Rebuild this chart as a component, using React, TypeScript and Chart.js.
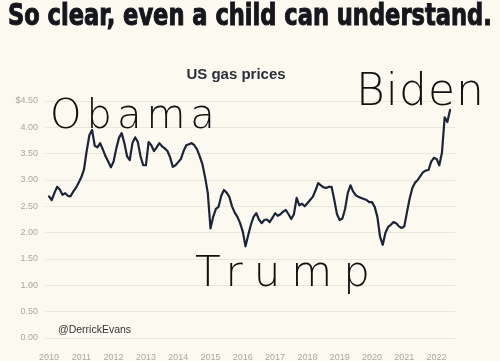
import React, { useEffect, useLayoutEffect, useRef } from 'react';
import { Chart, registerables } from 'chart.js';

Chart.register(...registerables);

const TITLE = 'So clear, even a child can understand.';
const CHART_TITLE = 'US gas prices';
const CREDIT = '@DerrickEvans';
const NOTE_OBAMA = 'Obama';
const NOTE_TRUMP = 'Trump';
const NOTE_BIDEN = 'Biden';

const yearTicks = [2010, 2011, 2012, 2013, 2014, 2015, 2016, 2017, 2018, 2019, 2020, 2021, 2022];
const priceTicks = [0, 0.5, 1, 1.5, 2, 2.5, 3, 3.5, 4, 4.5];

// monthly average prices (USD / gallon), January first
const prices2010 = [2.69, 2.62, 2.75, 2.87, 2.82, 2.72, 2.75, 2.70, 2.69, 2.78, 2.85, 2.95];
const prices2011 = [3.05, 3.20, 3.55, 3.85, 3.95, 3.65, 3.62, 3.70, 3.58, 3.45, 3.35, 3.24];
const prices2012 = [3.35, 3.60, 3.80, 3.89, 3.70, 3.45, 3.38, 3.70, 3.81, 3.72, 3.45, 3.28];
const prices2013 = [3.28, 3.72, 3.66, 3.55, 3.62, 3.70, 3.64, 3.60, 3.55, 3.43, 3.25, 3.28];
const prices2014 = [3.34, 3.40, 3.55, 3.66, 3.68, 3.70, 3.66, 3.58, 3.45, 3.30, 3.05, 2.75];
const prices2015 = [2.08, 2.30, 2.45, 2.49, 2.70, 2.81, 2.76, 2.68, 2.50, 2.38, 2.30, 2.18];
const prices2016 = [2.02, 1.74, 1.95, 2.15, 2.30, 2.37, 2.25, 2.18, 2.24, 2.25, 2.20, 2.28];
const prices2017 = [2.37, 2.32, 2.35, 2.40, 2.43, 2.35, 2.26, 2.35, 2.66, 2.52, 2.55, 2.50];
const prices2018 = [2.56, 2.62, 2.68, 2.80, 2.94, 2.90, 2.86, 2.85, 2.87, 2.87, 2.62, 2.35];
const prices2019 = [2.24, 2.27, 2.45, 2.75, 2.90, 2.78, 2.71, 2.68, 2.66, 2.64, 2.62, 2.58];
const prices2020 = [2.58, 2.49, 2.30, 1.92, 1.77, 2.00, 2.11, 2.15, 2.20, 2.18, 2.12, 2.09];
const prices2021 = [2.12, 2.39, 2.65, 2.85, 2.95, 3.00, 3.08, 3.15, 3.18, 3.19, 3.35, 3.42];
const prices2022 = [3.40, 3.28, 3.52, 4.19, 4.10, 4.33];

const pricesByYear: [number, number[]][] = [
  [2010, prices2010], [2011, prices2011], [2012, prices2012], [2013, prices2013],
  [2014, prices2014], [2015, prices2015], [2016, prices2016], [2017, prices2017],
  [2018, prices2018], [2019, prices2019], [2020, prices2020], [2021, prices2021],
  [2022, prices2022],
];

const BG = '#fbf9f0';
const HAND = '"DejaVu Sans", sans-serif';

export default function App() {
  const canvasRef = useRef<HTMLCanvasElement | null>(null);
  const titleRef = useRef<HTMLSpanElement | null>(null);

  useLayoutEffect(() => {
    document.body.style.margin = '0';
    document.body.style.background = BG;
    const el = titleRef.current;
    if (el) {
      el.style.transform = 'none';
      const w = el.offsetWidth;
      if (w > 0) el.style.transform = `scaleX(${484 / w})`;
    }
  }, []);

  useEffect(() => {
    const canvas = canvasRef.current;
    if (!canvas) return;
    const points: { x: number; y: number }[] = [];
    pricesByYear.forEach(([yr, arr]) => {
      arr.forEach((v, i) => points.push({ x: yr + i / 12, y: v }));
    });
    const chart = new Chart(canvas, {
      type: 'line',
      data: {
        datasets: [
          {
            data: points,
            borderColor: '#1b2537',
            borderWidth: 2.2,
            pointRadius: 0,
            tension: 0,
            fill: false,
            borderJoinStyle: 'round',
            borderCapStyle: 'round',
          } as any,
        ],
      },
      options: {
        animation: false,
        responsive: false,
        maintainAspectRatio: false,
        layout: { padding: { top: 101, right: 45, left: 0, bottom: 0 } },
        plugins: {
          legend: { display: false },
          tooltip: { enabled: false },
          title: { display: false },
        },
        scales: {
          x: {
            type: 'linear',
            min: 2009.876,
            max: 2022.57,
            grid: { display: false },
            border: { display: false },
            afterBuildTicks: (s: any) => {
              s.ticks = yearTicks.map((v) => ({ value: v }));
            },
            afterFit: (s: any) => {
              s.height = 23;
            },
            ticks: {
              callback: (v: any) => String(v),
              color: '#a9a8a3',
              font: { size: 9, family: '"Liberation Sans", sans-serif' },
              padding: 6,
              autoSkip: false,
              maxRotation: 0,
            },
          },
          y: {
            type: 'linear',
            min: 0,
            max: 4.5,
            afterBuildTicks: (s: any) => {
              s.ticks = priceTicks.map((v) => ({ value: v }));
            },
            afterFit: (s: any) => {
              s.width = 45;
            },
            grid: { color: '#ebe8db', lineWidth: 1, drawTicks: false },
            border: { display: false },
            ticks: {
              callback: (v: any) => (Number(v) === 4.5 ? '$' : '') + Number(v).toFixed(2),
              color: '#a9a8a3',
              font: { size: 9, family: '"Liberation Sans", sans-serif' },
              padding: 7,
            },
          },
        },
      } as any,
    });
    return () => chart.destroy();
  }, []);

  const abs: React.CSSProperties = { position: 'absolute', whiteSpace: 'nowrap', lineHeight: 1, margin: 0 };

  return (
    <div style={{ position: 'relative', width: 500, height: 361, background: BG, overflow: 'hidden' }}>
      <canvas
        ref={canvasRef}
        width={500}
        height={361}
        style={{ position: 'absolute', left: 0, top: 0, width: 500, height: 361, display: 'block' }}
      />
      <span
        ref={titleRef}
        style={{
          ...abs,
          display: 'inline-block',
          left: 8,
          top: 0,
          fontFamily: '"DejaVu Sans Condensed", "DejaVu Sans", sans-serif',
          fontStretch: 'condensed',
          fontWeight: 'bold',
          fontSize: 30,
          color: '#15171c',
          transformOrigin: 'left top',
          WebkitTextStroke: '1px #15171c',
        }}
      >
        {TITLE}
      </span>
      <span
        style={{
          ...abs,
          left: 236,
          top: 66,
          transform: 'translateX(-50%)',
          fontFamily: '"Liberation Sans", Arial, sans-serif',
          fontWeight: 'bold',
          fontSize: 15,
          color: '#2a2f3a',
        }}
      >
        {CHART_TITLE}
      </span>
      <span
        style={{
          ...abs,
          left: 58,
          top: 324,
          fontFamily: '"Liberation Sans", Arial, sans-serif',
          fontSize: 10.5,
          color: '#333',
        }}
      >
        {CREDIT}
      </span>
      <span
        style={{ ...abs, left: 50, top: 94, fontFamily: HAND, fontWeight: 200, fontSize: 40, letterSpacing: 5, color: '#111' }}
      >
        {NOTE_OBAMA}
      </span>
      <span
        style={{ ...abs, left: 195, top: 251, fontFamily: HAND, fontWeight: 200, fontSize: 42, letterSpacing: 11, color: '#111' }}
      >
        {NOTE_TRUMP}
      </span>
      <span
        style={{ ...abs, left: 356, top: 68, fontFamily: HAND, fontWeight: 200, fontSize: 44, letterSpacing: 1, color: '#111' }}
      >
        {NOTE_BIDEN}
      </span>
    </div>
  );
}
